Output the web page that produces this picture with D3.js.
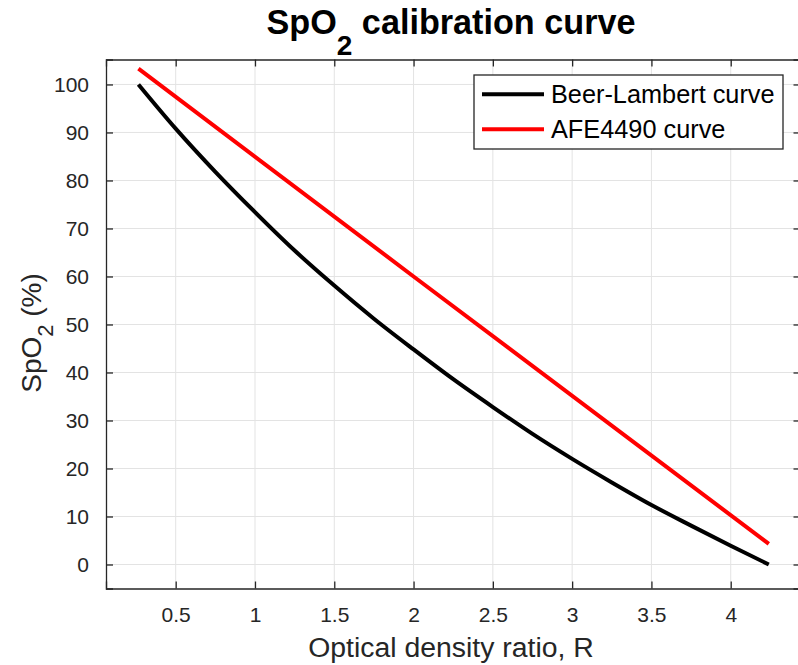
<!DOCTYPE html>
<html>
<head>
<meta charset="utf-8">
<script src="https://cdn.jsdelivr.net/npm/d3@7"></script>
<style>
  body { margin: 0; background: #fff; }
  svg { display: block; font-family: "Liberation Sans", Arial, Helvetica, sans-serif; }
</style>
</head>
<body>
<div id="chart"></div>
<script>
// values
const ratioR = [0.265, 0.5, 0.75, 1, 1.25, 1.5, 1.75, 2, 2.25, 2.5, 2.75, 3, 3.25, 3.5, 3.75, 4, 4.24];
const beerLambert = [100, 90.8, 81.8, 73.4, 65.4, 58.1, 51.2, 44.8, 38.6, 32.8, 27.2, 22.0, 17.1, 12.4, 8.1, 3.9, 0];
const afeRatio = [0.265, 2, 4.24];
const afe4490 = [103.3, 60, 4.3];
const xTicks = [0.5, 1, 1.5, 2, 2.5, 3, 3.5, 4];
const yTicks = [0, 10, 20, 30, 40, 50, 60, 70, 80, 90, 100];
const seriesNames = ['Beer-Lambert curve', 'AFE4490 curve'];
const seriesColors = ['#000000', '#ff0000'];

const width = 798, height = 665;
const margin = { top: 59.5, right: -2.5, bottom: 76.5, left: 106 };
const axisColor = '#262626';
const gridColor = '#e3e3e3';

const svg = d3.select('#chart').append('svg')
  .attr('width', width)
  .attr('height', height);

const plotW = width - margin.left - margin.right;
const plotH = height - margin.top - margin.bottom;

const x = d3.scaleLinear().domain([0.0605, 4.44]).range([margin.left, margin.left + plotW]);
const y = d3.scaleLinear().domain([-5, 105.2]).range([margin.top + plotH, margin.top]);

// grid
const grid = svg.append('g');
grid.selectAll('.gx').data(xTicks).enter().append('line')
  .attr('x1', d => x(d)).attr('x2', d => x(d))
  .attr('y1', margin.top).attr('y2', margin.top + plotH)
  .attr('stroke', gridColor).attr('stroke-width', 1);
grid.selectAll('.gy').data(yTicks).enter().append('line')
  .attr('x1', margin.left).attr('x2', margin.left + plotW)
  .attr('y1', d => y(d)).attr('y2', d => y(d))
  .attr('stroke', gridColor).attr('stroke-width', 1);

// axes (ticks point inward, matlab style)
const tickLen = 7;
const xAxis = svg.append('g')
  .attr('transform', `translate(0,${margin.top + plotH})`)
  .call(d3.axisBottom(x).tickValues(xTicks).tickSize(-tickLen).tickPadding(19).tickFormat(d3.format('')));
const xAxisTop = svg.append('g')
  .attr('transform', `translate(0,${margin.top})`)
  .call(d3.axisTop(x).tickValues(xTicks).tickSize(-tickLen).tickFormat(''));
const yAxis = svg.append('g')
  .attr('transform', `translate(${margin.left},0)`)
  .call(d3.axisLeft(y).tickValues(yTicks).tickSize(-tickLen).tickPadding(17));
const yAxisRight = svg.append('g')
  .attr('transform', `translate(${margin.left + plotW},0)`)
  .call(d3.axisRight(y).tickValues(yTicks).tickSize(-tickLen).tickFormat(''));

[xAxis, xAxisTop, yAxis, yAxisRight].forEach(a => {
  a.select('.domain').attr('stroke', axisColor).attr('stroke-width', 1.3);
  a.selectAll('.tick line').attr('stroke', axisColor).attr('stroke-width', 1.3);
  a.selectAll('.tick text').attr('fill', axisColor).style('font-size', '21px').attr('font-family', null);
});
xAxis.selectAll('.tick text').attr('dy', '0.71em');

// curves
const line = d3.line().x(d => x(d[0])).y(d => y(d[1])).curve(d3.curveMonotoneX);
const series = [
  d3.zip(ratioR, beerLambert),
  d3.zip(afeRatio, afe4490)
];
svg.append('g').selectAll('path').data(series).enter().append('path')
  .attr('d', line)
  .attr('fill', 'none')
  .attr('stroke', (d, i) => seriesColors[i])
  .attr('stroke-width', 4);

// legend
const lg = svg.append('g').attr('transform', 'translate(474,75)');
lg.append('rect')
  .attr('width', 309).attr('height', 74)
  .attr('fill', '#fff').attr('stroke', axisColor).attr('stroke-width', 1.3);
const items = lg.selectAll('.item').data(seriesNames).enter().append('g')
  .attr('transform', (d, i) => `translate(0,${19.3 + i * 35})`);
items.append('line')
  .attr('x1', 8).attr('x2', 70)
  .attr('stroke', (d, i) => seriesColors[i]).attr('stroke-width', 4);
items.append('text')
  .attr('x', 77).attr('dy', '0.36em')
  .style('font-size', '25.3px')
  .attr('fill', '#000')
  .text(d => d);

// title
const cx = margin.left + (width - 2 - margin.left) / 2;
const title = svg.append('text')
  .attr('x', cx).attr('y', 34)
  .attr('text-anchor', 'middle')
  .style('font-size', '34.2px').style('font-weight', 'bold')
  .attr('fill', '#000');
title.append('tspan').text('SpO');
title.append('tspan').attr('dy', 21).style('font-size', '28px').text('2');
title.append('tspan').attr('dy', -21).text(' calibration curve');

// x label
svg.append('text')
  .attr('x', cx).attr('y', 657)
  .attr('text-anchor', 'middle')
  .style('font-size', '28.4px')
  .attr('fill', axisColor)
  .text('Optical density ratio, R');

// y label
const yl = svg.append('text')
  .attr('transform', `translate(41,${margin.top + plotH / 2 + 9}) rotate(-90)`)
  .attr('text-anchor', 'middle')
  .style('font-size', '28px')
  .attr('fill', axisColor);
yl.append('tspan').text('SpO');
yl.append('tspan').attr('dy', 12).style('font-size', '22px').text('2');
yl.append('tspan').attr('dy', -12).text(' (%)');
</script>
</body>
</html>
